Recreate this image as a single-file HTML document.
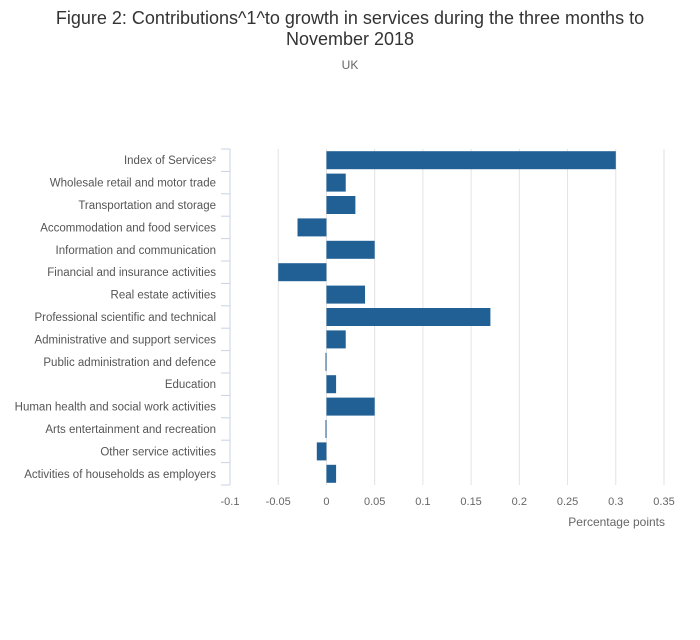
<!DOCTYPE html>
<html><head><meta charset="utf-8"><style>
body{margin:0;background:#fff;width:700px;height:635px;overflow:hidden;font-family:"Liberation Sans",sans-serif}
</style></head><body>
<svg id="chart" width="700" height="635" xmlns="http://www.w3.org/2000/svg" font-family="Liberation Sans, sans-serif">
<text x="350" y="24" text-anchor="middle" font-size="18" fill="#333">Figure 2: Contributions^1^to growth in services during the three months to</text>
<text x="350" y="45" text-anchor="middle" font-size="18" fill="#333">November 2018</text>
<text x="350" y="69" text-anchor="middle" font-size="12" fill="#666">UK</text>
<g id="grid"></g><g id="bars"></g><g id="axes"></g>
<text x="665" y="526" text-anchor="end" font-size="12" fill="#666">Percentage points</text>
</svg>
<script>
const categories=["Index of Services²","Wholesale retail and motor trade","Transportation and storage","Accommodation and food services","Information and communication","Financial and insurance activities","Real estate activities","Professional scientific and technical","Administrative and support services","Public administration and defence","Education","Human health and social work activities","Arts entertainment and recreation","Other service activities","Activities of households as employers"];
const values=[0.30,0.02,0.03,-0.03,0.05,-0.05,0.04,0.17,0.02,-0.001,0.01,0.05,-0.001,-0.01,0.01];
const ticks=[-0.1,-0.05,0,0.05,0.1,0.15,0.2,0.25,0.3,0.35];
const tickLabels=["-0.1","-0.05","0","0.05","0.1","0.15","0.2","0.25","0.3","0.35"];
const NS="http://www.w3.org/2000/svg";
const x0=230,x1=664,yTop=149,yBottom=485;
const xs=v=>x0+(v-(-0.1))/(0.45)*(x1-x0);
const band=(yBottom-yTop)/categories.length;
const ys=i=>yTop+i*band;
function mk(t,a,p){const e=document.createElementNS(NS,t);for(const k in a)e.setAttribute(k,a[k]);p.appendChild(e);return e;}
const grid=document.getElementById('grid'),bars=document.getElementById('bars'),axes=document.getElementById('axes');
ticks.forEach((t,i)=>{
 if(i>0){const g=mk('line',{x1:xs(t),x2:xs(t),y1:yTop,y2:yBottom,stroke:'#e2e2e2','stroke-width':1},grid);
 
 }
 const l=mk('text',{x:xs(t),y:505,'text-anchor':'middle','font-size':11,fill:'#666'},axes);l.textContent=tickLabels[i];
 
 
});
const ax=mk('line',{x1:x0,x2:x0,y1:yTop,y2:yBottom,stroke:'#c8d2e6','stroke-width':1},axes);


for(let k=0;k<=categories.length;k++){const tk=mk('line',{x1:x0-9,x2:x0,y1:ys(k),y2:ys(k),stroke:'#c8d2e6'},axes);
 
 }
categories.forEach((c,i)=>{
 const v=values[i],a=xs(Math.min(0,v)),b=xs(Math.max(0,v));
 const r=mk('rect',{x:a,y:ys(i)+2.2,width:Math.max(1,b-a),height:band-4.4,fill:'#206095'},bars);
 
 
 const t=mk('text',{x:216,y:ys(i)+band/2+4,'text-anchor':'end','font-size':11.5,fill:'#555'},axes);t.textContent=c;
 
 
});
</script>
</body></html>
